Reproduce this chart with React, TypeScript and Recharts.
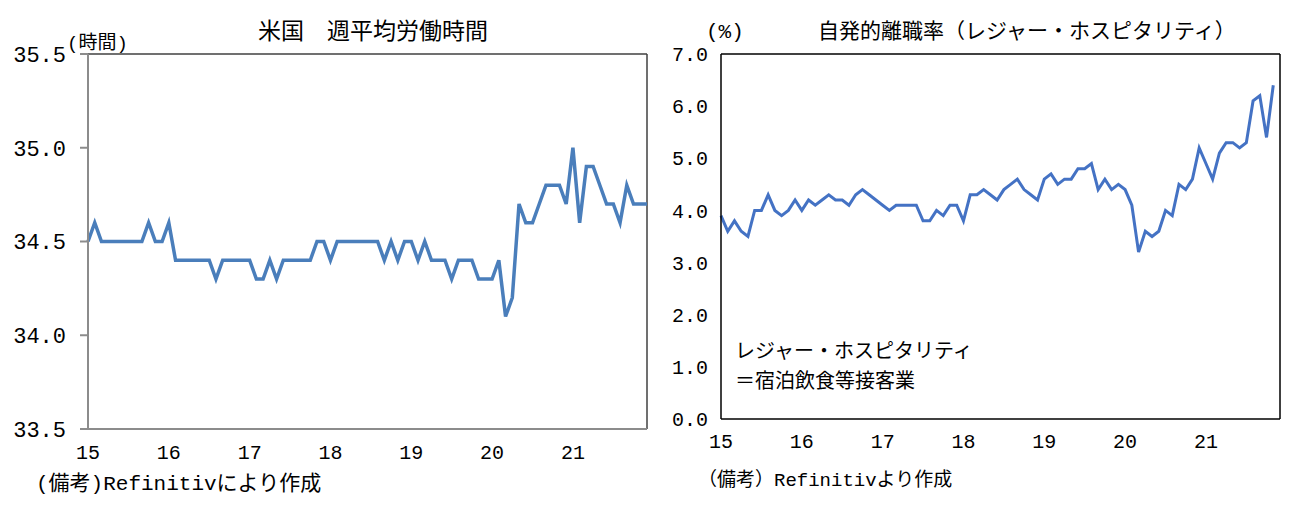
import React from 'react';
import { LineChart, Line, XAxis, YAxis, ReferenceLine } from 'recharts';

// 米国 週平均労働時間 (2015/01 - 2021/12)
const hours2015 = [34.5, 34.6, 34.5, 34.5, 34.5, 34.5, 34.5, 34.5, 34.5, 34.6, 34.5, 34.5];
const hours2016 = [34.6, 34.4, 34.4, 34.4, 34.4, 34.4, 34.4, 34.3, 34.4, 34.4, 34.4, 34.4];
const hours2017 = [34.4, 34.3, 34.3, 34.4, 34.3, 34.4, 34.4, 34.4, 34.4, 34.4, 34.5, 34.5];
const hours2018 = [34.4, 34.5, 34.5, 34.5, 34.5, 34.5, 34.5, 34.5, 34.4, 34.5, 34.4, 34.5];
const hours2019 = [34.5, 34.4, 34.5, 34.4, 34.4, 34.4, 34.3, 34.4, 34.4, 34.4, 34.3, 34.3];
const hours2020 = [34.3, 34.4, 34.1, 34.2, 34.7, 34.6, 34.6, 34.7, 34.8, 34.8, 34.8, 34.7];
const hours2021 = [35.0, 34.6, 34.9, 34.9, 34.8, 34.7, 34.7, 34.6, 34.8, 34.7, 34.7, 34.7];

// 自発的離職率(レジャー・ホスピタリティ) (2015/01 - 2021/11)
const quits2015 = [3.9, 3.6, 3.8, 3.6, 3.5, 4.0, 4.0, 4.3, 4.0, 3.9, 4.0, 4.2];
const quits2016 = [4.0, 4.2, 4.1, 4.2, 4.3, 4.2, 4.2, 4.1, 4.3, 4.4, 4.3, 4.2];
const quits2017 = [4.1, 4.0, 4.1, 4.1, 4.1, 4.1, 3.8, 3.8, 4.0, 3.9, 4.1, 4.1];
const quits2018 = [3.8, 4.3, 4.3, 4.4, 4.3, 4.2, 4.4, 4.5, 4.6, 4.4, 4.3, 4.2];
const quits2019 = [4.6, 4.7, 4.5, 4.6, 4.6, 4.8, 4.8, 4.9, 4.4, 4.6, 4.4, 4.5];
const quits2020 = [4.4, 4.1, 3.2, 3.6, 3.5, 3.6, 4.0, 3.9, 4.5, 4.4, 4.6, 5.2];
const quits2021 = [4.9, 4.6, 5.1, 5.3, 5.3, 5.2, 5.3, 6.1, 6.2, 5.4, 6.4];

const yearLabels = ['15', '16', '17', '18', '19', '20', '21'];
const yearTickIndex = [0, 12, 24, 36, 48, 60, 72];
const hoursTicks = [33.5, 34.0, 34.5, 35.0, 35.5];
const quitsTicks = [0, 1, 2, 3, 4, 5, 6, 7];

const hoursValues = [
  ...hours2015, ...hours2016, ...hours2017, ...hours2018, ...hours2019, ...hours2020, ...hours2021,
];
const quitsValues = [
  ...quits2015, ...quits2016, ...quits2017, ...quits2018, ...quits2019, ...quits2020, ...quits2021,
];

const hoursData = hoursValues.map((v, i) => ({ i, v }));
const quitsData = quitsValues.map((v, i) => ({ i, v }));

const FONT = "'Liberation Mono', 'Noto Sans CJK JP', monospace";
const CJK = "'Noto Sans CJK JP', 'Liberation Mono', sans-serif";

const yearFmt = (i: number) => yearLabels[Math.round(i / 12)] ?? '';

const txt = (left: number, top: number, size: number, content: string, family = CJK) => (
  <div
    style={{
      position: 'absolute',
      left,
      top,
      fontSize: size,
      lineHeight: 1,
      fontFamily: family,
      color: '#000',
      whiteSpace: 'nowrap',
      zIndex: 2,
    }}
  >
    {content}
  </div>
);

export default function App() {
  return (
    <div style={{ position: 'absolute', left: 0, top: 0, width: 1304, height: 512, background: '#fff' }}>
      <div style={{ position: 'absolute', left: 0, top: 0 }}>
        <LineChart width={660} height={512} data={hoursData} margin={{ top: 54, right: 13, bottom: 53, left: 0 }}>
          <XAxis
            dataKey="i"
            type="number"
            domain={[0, 83]}
            ticks={yearTickIndex}
            tickFormatter={yearFmt}
            height={30}
            axisLine={{ stroke: '#8c8c8c', strokeWidth: 2 }}
            tickLine={false}
            tickSize={0}
            tickMargin={16}
            tick={{ fontFamily: FONT, fontSize: 20, fill: '#000' }}
          />
          <YAxis
            type="number"
            domain={[33.5, 35.5]}
            ticks={hoursTicks}
            tickFormatter={(v: number) => v.toFixed(1)}
            width={88}
            axisLine={{ stroke: '#8c8c8c', strokeWidth: 2 }}
            tickLine={{ stroke: '#8c8c8c', strokeWidth: 2 }}
            tickSize={8}
            tickMargin={14}
            tick={{ fontFamily: FONT, fontSize: 22, fill: '#000' }}
          />
          <ReferenceLine y={35.5} stroke="#404040" strokeWidth={1.5} />
          <ReferenceLine x={83} stroke="#404040" strokeWidth={1.5} />
          <Line
            type="linear"
            dataKey="v"
            stroke="#4a7ebb"
            strokeWidth={3.5}
            dot={false}
            isAnimationActive={false}
          />
        </LineChart>
      </div>
      <div style={{ position: 'absolute', left: 660, top: 0 }}>
        <LineChart width={644} height={512} data={quitsData} margin={{ top: 54, right: 24, bottom: 63, left: 0 }}>
          <XAxis
            dataKey="i"
            type="number"
            domain={[0, 83]}
            ticks={yearTickIndex}
            tickFormatter={yearFmt}
            height={30}
            axisLine={{ stroke: '#000', strokeWidth: 1.5 }}
            tickLine={false}
            tickSize={0}
            tickMargin={15}
            tick={{ fontFamily: FONT, fontSize: 20, fill: '#000' }}
          />
          <YAxis
            type="number"
            domain={[0, 7]}
            ticks={quitsTicks}
            tickFormatter={(v: number) => v.toFixed(1)}
            width={61}
            axisLine={{ stroke: '#000', strokeWidth: 1.5 }}
            tickLine={false}
            tickSize={0}
            tickMargin={13}
            tick={{ fontFamily: FONT, fontSize: 20, fill: '#000' }}
          />
          <ReferenceLine y={7} stroke="#000" strokeWidth={1.5} />
          <ReferenceLine x={83} stroke="#000" strokeWidth={1.5} />
          <Line
            type="linear"
            dataKey="v"
            stroke="#4472c4"
            strokeWidth={3}
            dot={false}
            isAnimationActive={false}
          />
        </LineChart>
      </div>

      {txt(258, 18, 23, '米国　週平均労働時間')}
      {txt(67, 35, 19, '(時間)', FONT)}
      {txt(36, 474, 21, '(備考)Refinitivにより作成', FONT)}

      {txt(818, 19, 21, '自発的離職率（レジャー・ホスピタリティ）')}
      {txt(706, 22, 21, '(%)', FONT)}
      {txt(735, 340, 20, 'レジャー・ホスピタリティ')}
      {txt(735, 370, 20, '＝宿泊飲食等接客業')}
      {txt(698, 472, 19, '（備考）Refinitivより作成', FONT)}
    </div>
  );
}
